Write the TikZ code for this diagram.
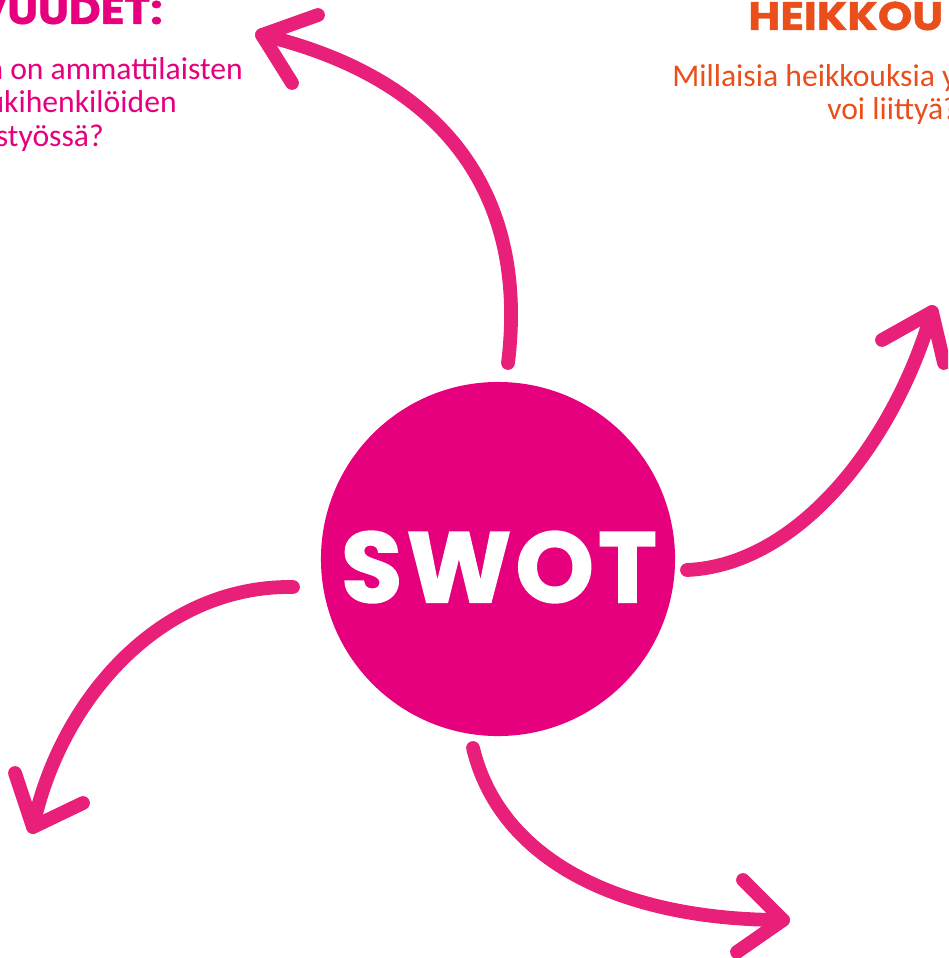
\documentclass[tikz,border=0pt]{standalone}
\usepackage{fontspec}
\setmainfont{Carlito}
\newfontfamily\headfont{Poppins}[BoldFeatures={FakeBold=1.2,FakeStretch=1.1}]
\newfontfamily\titlefont{Poppins}[BoldFeatures={FakeBold=1.6,LetterSpace=4}]

\definecolor{swotpink}{HTML}{E6007E}
\definecolor{sweeppink}{HTML}{E8207A}
\definecolor{weakorange}{HTML}{E94E1B}

\tikzstyle{disc}     = [circle,fill=swotpink,inner sep=0,minimum size=8.85cm]
\tikzstyle{title}    = [inner sep=0,text=white,font=\titlefont\bfseries\fontsize{71}{71}\selectfont]
\tikzstyle{heading}  = [inner sep=0,font=\headfont\bfseries\fontsize{28.3}{28.3}\selectfont]
\tikzstyle{question} = [inner sep=0,font=\fontsize{22.5}{22.5}\selectfont]
\tikzstyle{sweep}    = [draw=sweeppink,line width=9.8pt,line cap=round,line join=round]

\begin{document}
\begin{tikzpicture}[x=0.025cm,y=-0.025cm]
\useasboundingbox (0,0) rectangle (948,958);
\clip (0,0) rectangle (948,958);
% Draw the SWOT disc
\node[disc] (swot) at (498,559) {};
\node[title] (swotlabel) at (499,567) {SWOT};
% Draw the corner texts
\node[heading,text=swotpink,anchor=base east] (strong) at (163,24) {VUUDET:};
\node[question,text=swotpink,anchor=base east] (strong1) at (243,80) {n on ammattilaisten};
\node[question,text=swotpink,anchor=base east] (strong2) at (177,113) {ukihenkilöiden};
\node[question,text=swotpink,anchor=base east] (strong3) at (104,147) {styössä?};
\node[heading,text=weakorange,anchor=base west] (weak) at (748,30) {HEIKKOU};
\node[question,text=weakorange,anchor=base west] (weak1) at (672,87) {Millaisia heikkouksia y};
\node[question,text=weakorange,anchor=base west] (weak2) at (827,120) {voi liittyä?};
% Arrow ends
\coordinate (s1) at (508,363); \coordinate (t1) at (262,35);
\coordinate (s2) at (687,570); \coordinate (t2) at (932,312);
\coordinate (s3) at (293,587); \coordinate (t3) at (33,827);
\coordinate (s4) at (473,748); \coordinate (t4) at (783,920);
% Draw the four sweeping arrows
\draw[sweep] (s1) .. controls (528,200) and (450,80) .. (t1);
\draw[sweep] (318,15) -- (t1) -- (292,83);
\draw[sweep] (s2) .. controls (800,565) and (895,440) .. (t2);
\draw[sweep] (882,340) -- (t2) -- (944,363);
\draw[sweep] (s3) .. controls (160,585) and (60,700) .. (t3);
\draw[sweep] (15,773) -- (t3) -- (83,803);
\draw[sweep] (s4) .. controls (500,860) and (620,920) .. (t4);
\draw[sweep] (743,880) -- (t4) -- (737,952);
\end{tikzpicture}
\end{document}
